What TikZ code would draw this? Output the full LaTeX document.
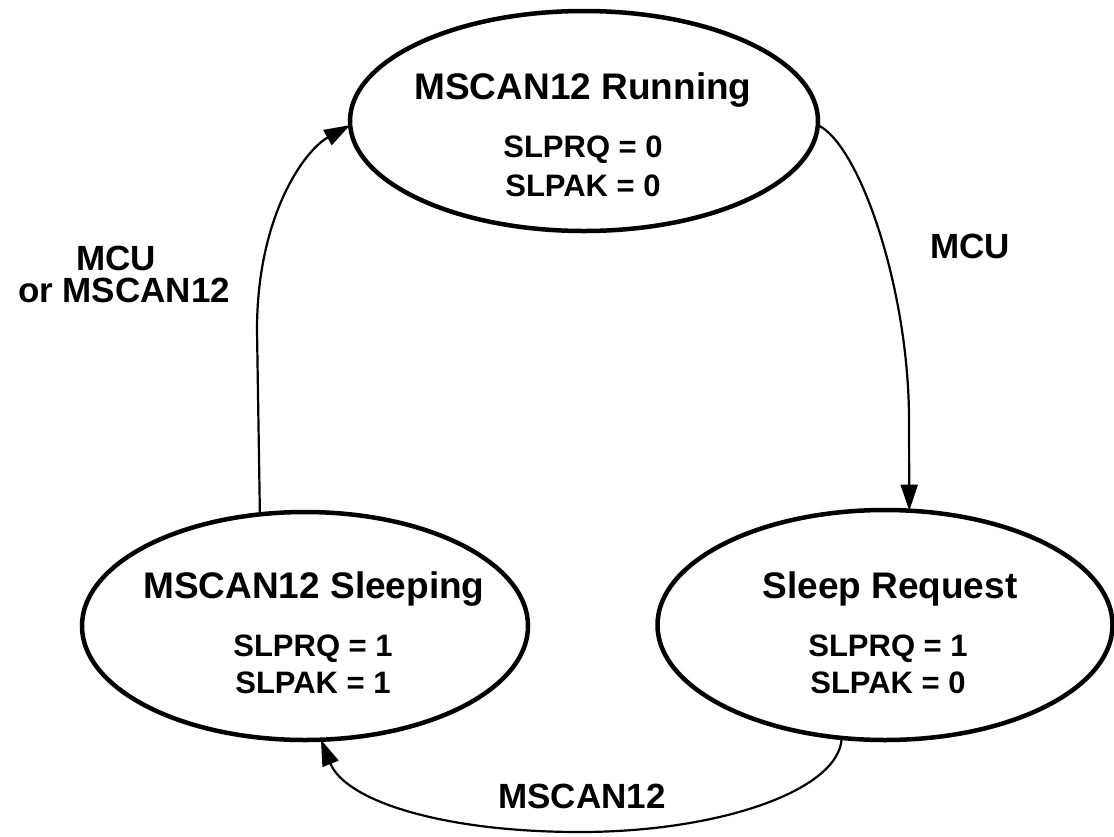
\documentclass[tikz,border=0pt]{standalone}
\usepackage{fontspec}
\setmainfont{Liberation Sans}
\usetikzlibrary{arrows.meta,shapes.geometric}
\begin{document}
\begin{tikzpicture}[x=1pt,y=-1pt,
  state/.style={ellipse,draw,line width=4.5pt,inner sep=0pt,outer sep=0pt},
  title/.style={anchor=base,font=\fontsize{37}{40}\selectfont\bfseries,inner sep=0pt},
  bits/.style={anchor=base,font=\fontsize{31}{34}\selectfont\bfseries,inner sep=0pt},
  lbl/.style={anchor=base,font=\fontsize{35}{38}\selectfont\bfseries,inner sep=0pt},
  conn/.style={line width=2.2pt,-{Triangle[length=26pt,width=17pt]}}]
\useasboundingbox (0,0) rectangle (1114,836);
% states
\node[state,minimum width=468pt,minimum height=220pt] (run) at (584,121) {};
\node[state,minimum width=446pt,minimum height=228pt] (sleep) at (305,626) {};
\node[state,minimum width=455pt,minimum height=230pt] (req) at (885,625) {};
% state texts
\node[title] (runT) at (583,99) {MSCAN12 Running};
\node[bits] (runA) at (583,157) {SLPRQ = 0};
\node[bits] (runB) at (583,196) {SLPAK = 0};
\node[title] (sleepT) at (314,598) {MSCAN12 Sleeping};
\node[bits] (sleepA) at (313,656) {SLPRQ = 1};
\node[bits] (sleepB) at (313,693) {SLPAK = 1};
\node[title] (reqT) at (890,598) {Sleep Request};
\node[bits] (reqA) at (888,656) {SLPRQ = 1};
\node[bits] (reqB) at (888,693) {SLPAK = 0};
% transitions
\draw[conn] (sleep.112.8) -- (257,330) .. controls (257,215) and (305,150) .. (run.181);
\draw[conn] (run.359) .. controls (860,145) and (909,290) .. (909,420) -- (req.78.2);
\draw[conn] (req.249.5) .. controls (840,790) and (720,832) .. (580,832) .. controls (440,832) and (345,800) .. (sleep.278.8);
% labels
\node[lbl] (l1) at (116,270) {MCU};
\node[lbl] (l2) at (124,302) {or MSCAN12};
\node[lbl] (l3) at (970,258) {MCU};
\node[lbl] (l4) at (582,808) {MSCAN12};
\end{tikzpicture}
\end{document}
